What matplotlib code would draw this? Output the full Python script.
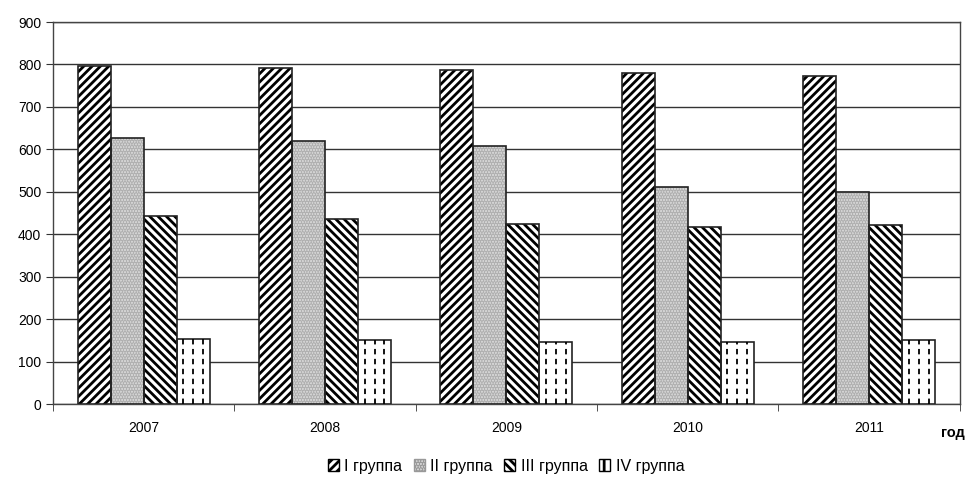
import numpy as np
import matplotlib.pyplot as plt
from matplotlib.patches import Patch

plt.rcParams['font.family'] = ['Liberation Sans', 'DejaVu Sans']
plt.rcParams['hatch.linewidth'] = 2.0

years = ["2007", "2008", "2009", "2010", "2011"]
group_names = ["I группа", "II группа", "III группа", "IV группа"]
g1 = [797, 792, 788, 780, 772]
g2 = [627, 620, 608, 512, 500]
g3 = [443, 437, 425, 418, 421]
g4 = [153, 150, 147, 146, 151]

fig = plt.figure(figsize=(9.73, 4.84), dpi=100)
ax = fig.add_axes([0.0545, 0.165, 0.932, 0.7895])

x = np.arange(len(years))
w = 0.182
offs = (np.arange(4) - 1.5) * w

# I group: forward diagonal
ax.bar(x + offs[0], g1, w, facecolor="white", edgecolor="black", hatch="////", lw=0, zorder=3)
ax.bar(x + offs[0], g1, w, facecolor="none", edgecolor="#222222", lw=1.2, zorder=4)

# II group: light grey, fine dots
ax.bar(x + offs[1], g2, w, facecolor="#dadada", edgecolor="#b0b0b0", hatch="......", lw=0, zorder=3)
ax.bar(x + offs[1], g2, w, facecolor="none", edgecolor="#222222", lw=1.2, zorder=4)

# III group: back diagonal
ax.bar(x + offs[2], g3, w, facecolor="white", edgecolor="black", hatch="\\\\\\\\", lw=0, zorder=3)
ax.bar(x + offs[2], g3, w, facecolor="none", edgecolor="#222222", lw=1.2, zorder=4)

# IV group: dashed vertical lines inside white bars
bars4 = ax.bar(x + offs[3], g4, w, facecolor="white", edgecolor="#222222", lw=1.2, zorder=3)
for b in bars4:
    xs = b.get_x() + b.get_width() * np.array([0.2, 0.5, 0.8])
    lines = ax.vlines(xs, 0, b.get_height(), colors="black", linestyles=(0, (3, 2.5)), lw=1.3, zorder=3.5)
    lines.set_clip_path(b)

ax.set_xlim(-0.5, len(years) - 0.5)
ax.set_ylim(0, 900)
ax.set_yticks(np.arange(0, 901, 100))
ax.yaxis.grid(True, color="#333333", lw=1)
ax.set_axisbelow(True)

ax.set_xticks(x)
ax.set_xticklabels(years)
ax.set_xticks(np.arange(-0.5, len(years)), minor=True)
ax.tick_params(axis="x", which="major", length=0, pad=12, labelsize=10)
ax.tick_params(axis="x", which="minor", length=5, direction="out", color="#333333")
ax.tick_params(axis="y", length=5, direction="out", labelsize=10, color="#333333")

for s in ax.spines.values():
    s.set_color("#444444")
    s.set_linewidth(1)

fig.text(0.979, 0.105, "год", fontsize=10.5, fontweight="bold", ha="center", va="center")

handles = [
    Patch(facecolor="white", edgecolor="black", hatch="////"),
    Patch(facecolor="#dadada", edgecolor="#999999", hatch="......"),
    Patch(facecolor="white", edgecolor="black", hatch="\\\\\\\\"),
    Patch(facecolor="white", edgecolor="black", hatch="||"),
]
fig.legend(handles, group_names, loc="center", bbox_to_anchor=(0.52, 0.037), ncol=4, frameon=False,
           fontsize=11.5, handlelength=0.7, handleheight=0.7, handletextpad=0.35, columnspacing=0.7)

fig.savefig("out.png", dpi=100)
